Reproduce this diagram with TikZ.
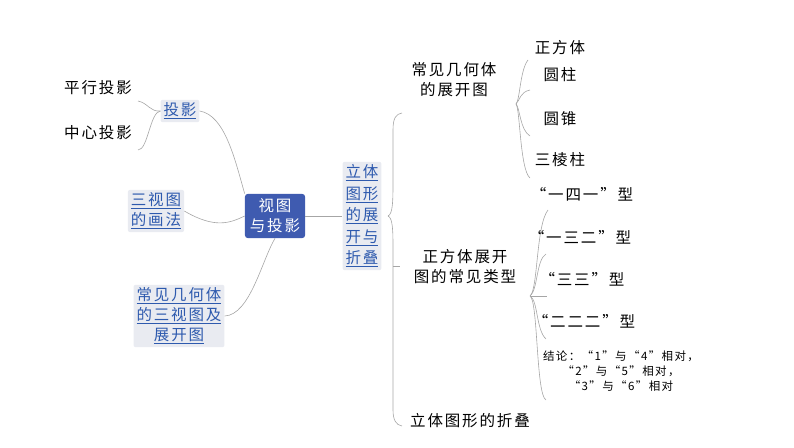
\documentclass[tikz,border=0pt]{standalone}
\usepackage{fontspec}
\setmainfont{Noto Sans CJK SC}[LetterSpace=12]
\definecolor{cblue}{HTML}{3F5BB0}
\definecolor{tblue}{HTML}{2E5AAE}
\definecolor{bgray}{HTML}{E9EBF1}
\begin{document}
\begin{tikzpicture}[x=1pt,y=-1pt,
  lbl/.style={font=\fontsize{15.5}{20}\selectfont,align=center,inner sep=1pt},
  sub/.style={lbl,fill=bgray,rounded corners=2pt,text=tblue,inner sep=3pt},
  ctr/.style={lbl,fill=cblue,rounded corners=3pt,text=white,inner sep=5pt},
  ln/.style={gray!70,line width=0.6pt}]
\useasboundingbox (0,0) rectangle (794,447);
\newcommand{\ul}[1]{\underline{#1}}
\node[ctr] (c) at (275,216) {视图\\与投影};
\node[sub] (p) at (180,111) {\ul{投影}};
\node[sub] (s) at (156,211) {\ul{三视图}\\\ul{的画法}};
\node[sub] (g) at (179,316) {\ul{常见几何体}\\\ul{的三视图及}\\\ul{展开图}};
\node[sub,font=\fontsize{15.5}{21.5}\selectfont] (r) at (362,216) {\ul{立体}\\\ul{图形}\\\ul{的展}\\\ul{开与}\\\ul{折叠}};
\node[lbl] (pp) at (98,88) {平行投影};
\node[lbl] (cp) at (98,133) {中心投影};
\draw[ln] (p.east) .. controls (225,115) and (235,160) .. (c.north west);
\draw[ln] (s.east) .. controls (215,229) and (230,223) .. (c.west);
\draw[ln] (g.east) .. controls (250,315) and (262,260) .. (c.south);
\draw[ln] (c.east) -- (r.west);
\draw[ln] (p.west) .. controls (150,112) and (148,103) .. (138,101);
\draw[ln] (p.west) .. controls (150,112) and (148,150) .. (138,150);
\coordinate (rb) at (388,216);
\draw[ln] (rb) .. controls (393,214) and (393,200) .. (393,180) -- (393,130) .. controls (393,118) and (396,114) .. (402,113);
\draw[ln] (rb) .. controls (393,218) and (393,232) .. (393,250) -- (393,410) .. controls (393,420) and (396,425) .. (402,426);
\draw[ln] (393,266) -- (400,266);
\node[lbl] (k1) at (454,80) {常见几何体\\的展开图};
\node[lbl] (k2) at (465,267) {正方体展开\\图的常见类型};
\node[lbl] (k3) at (470,421) {立体图形的折叠};
\coordinate (b1) at (516,104);
\draw[ln] (b1) .. controls (520,100) and (520,70) .. (528,60);
\draw[ln] (b1) .. controls (520,100) and (520,92) .. (530,90);
\draw[ln] (b1) .. controls (520,108) and (520,130) .. (530,136);
\draw[ln] (b1) .. controls (520,108) and (520,170) .. (530,178);
\node[lbl] (a1) at (560,48) {正方体};
\node[lbl] (a2) at (560,75) {圆柱};
\node[lbl] (a3) at (560,119) {圆锥};
\node[lbl] (a4) at (560,160) {三棱柱};
\coordinate (b2) at (530,296);
\draw[ln] (b2) .. controls (538,290) and (536,225) .. (548,210);
\draw[ln] (b2) .. controls (538,290) and (536,260) .. (546,254);
\draw[ln] (b2) -- (547,296);
\draw[ln] (b2) .. controls (538,300) and (536,330) .. (546,339);
\draw[ln] (b2) .. controls (538,300) and (536,395) .. (546,400);
\node[lbl] (t1) at (582,194) {“一四一”型};
\node[lbl] (t2) at (580,237) {“一三二”型};
\node[lbl] (t3) at (582,279) {“三三”型};
\node[lbl] (t4) at (584,321) {“二二二”型};
\node[lbl,font=\fontsize{11.5}{15}\selectfont] (t5) at (621,371) {结论：“1”与“4”相对，\\“2”与“5”相对，\\“3”与“6”相对};
\end{tikzpicture}
\end{document}
